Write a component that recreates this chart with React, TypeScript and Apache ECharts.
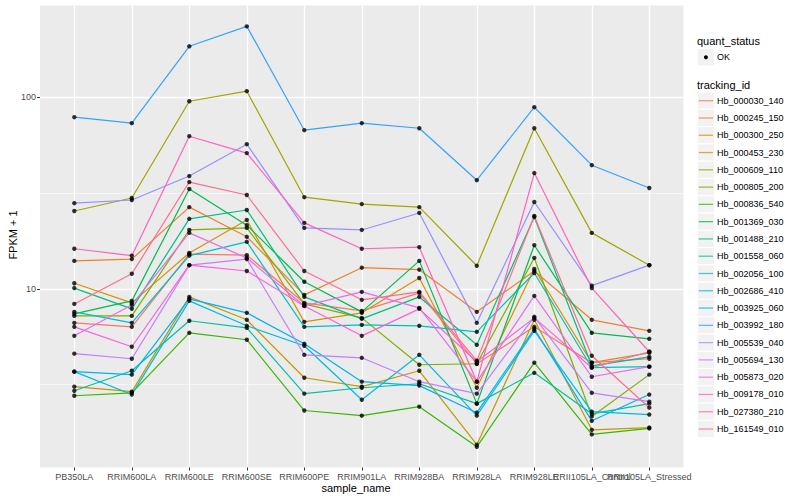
import React, { useEffect, useRef } from "react";
import * as echarts from "echarts";

// ---------- data ----------
const sampleNames = [
  "PB350LA", "RRIM600LA", "RRIM600LE", "RRIM600SE", "RRIM600PE", "RRIM901LA",
  "RRIM928BA", "RRIM928LA", "RRIM928LE", "RRII105LA_Control", "RRII105LA_Stressed",
];

const trackingIds = [
  "Hb_000030_140", "Hb_000245_150", "Hb_000300_250", "Hb_000453_230", "Hb_000609_110",
  "Hb_000805_200", "Hb_000836_540", "Hb_001369_030", "Hb_001488_210", "Hb_001558_060",
  "Hb_002056_100", "Hb_002686_410", "Hb_003925_060", "Hb_003992_180", "Hb_005539_040",
  "Hb_005694_130", "Hb_005873_020", "Hb_009178_010", "Hb_027380_210", "Hb_161549_010",
];

const trackingColors = [
  "#F8766D", "#EA8331", "#D89000", "#C09B00", "#A3A500",
  "#7CAE00", "#39B600", "#00BB4E", "#00BF7D", "#00C1A3",
  "#00BFC4", "#00BAE0", "#00B0F6", "#35A2FF", "#9590FF",
  "#C77CFF", "#E76BF3", "#FA62DB", "#FF62BC", "#FF6C91",
];

// FPKM + 1 per sample, one array per tracking id
const hb000030_140 = [6.65, 6.34, 15.2, 15.0, 8.45, 7.68, 9.53, 4.07, 6.34, 4.12, 4.32];
const hb000245_150 = [14.0, 14.3, 26.7, 18.7, 9.31, 12.9, 12.6, 7.59, 12.4, 6.9, 6.04];
const hb000300_250 = [10.7, 8.45, 15.4, 22.9, 6.73, 7.5, 11.4, 3.05, 12.7, 4.12, 4.64];
const hb000453_230 = [3.09, 2.91, 9.08, 6.9, 3.44, 3.09, 3.74, 1.54, 6.9, 1.84, 1.89];
const hb000609_110 = [25.5, 29.8, 95.3, 107.5, 30.1, 27.7, 26.7, 13.2, 68.9, 19.6, 13.3];
const hb000805_200 = [7.23, 7.23, 20.3, 20.8, 8.35, 7.06, 4.02, 4.07, 14.5, 2.16, 3.57];
const hb000836_540 = [2.77, 2.87, 5.9, 5.43, 2.32, 2.18, 2.43, 1.5, 4.12, 1.74, 1.87];
const hb001369_030 = [7.41, 8.66, 33.2, 21.5, 10.9, 7.59, 14.0, 2.52, 16.9, 5.9, 5.49];
const hb001488_210 = [10.1, 7.87, 23.2, 25.8, 9.08, 6.98, 9.08, 5.11, 23.7, 3.97, 4.42];
const hb001558_060 = [2.94, 3.74, 6.82, 6.26, 2.84, 3.05, 3.2, 2.52, 3.65, 2.23, 2.52];
const hb002056_100 = [7.59, 6.65, 14.9, 17.6, 6.34, 6.49, 6.42, 5.97, 12.1, 3.88, 3.93];
const hb002686_410 = [3.7, 2.81, 8.66, 6.42, 5.05, 2.64, 4.53, 2.18, 6.04, 2.29, 2.21];
const hb003925_060 = [3.7, 3.57, 8.87, 7.5, 5.17, 3.28, 3.13, 2.26, 6.19, 2.05, 2.81];
const hb003992_180 = [78.7, 73.2, 184.4, 234.3, 67.3, 73.2, 68.9, 36.9, 88.7, 44.2, 33.6];
const hb005539_040 = [28.0, 29.1, 38.8, 56.9, 20.8, 20.3, 24.9, 6.65, 28.4, 10.4, 13.3];
const hb005694_130 = [4.59, 4.32, 13.3, 14.3, 4.53, 4.37, 3.28, 2.84, 7.15, 2.87, 2.58];
const hb005873_020 = [5.69, 8.25, 19.6, 14.5, 8.15, 9.65, 7.96, 3.28, 9.19, 3.48, 3.93];
const hb009178_010 = [6.34, 4.99, 13.3, 12.4, 8.15, 5.69, 7.87, 4.17, 7.06, 3.88, 4.7];
const hb027380_210 = [16.2, 14.9, 62.6, 51.1, 22.1, 16.2, 16.5, 3.28, 40.2, 10.1, 4.7];
const hb161549_010 = [8.35, 12.0, 36.1, 30.9, 12.4, 8.77, 9.65, 4.22, 24.0, 4.48, 2.4];

const seriesValues = [
  hb000030_140, hb000245_150, hb000300_250, hb000453_230, hb000609_110,
  hb000805_200, hb000836_540, hb001369_030, hb001488_210, hb001558_060,
  hb002056_100, hb002686_410, hb003925_060, hb003992_180, hb005539_040,
  hb005694_130, hb005873_020, hb009178_010, hb027380_210, hb161549_010,
];

const quantStatus = ["OK"];
const yMin = 1.17;
const yMax = 301;

// ---------- layout ----------
const FONT = "'Liberation Sans', Arial, Helvetica, sans-serif";
const PANEL_LEFT = 40;
const PANEL_TOP = 5.5;
const PANEL_W = 643.5;
const PANEL_H = 462;
const STEP = 57.5;
const FIRST_X = 74.3;
const KEY_X = 697.3;
const KEY = 17.28;

function buildOption() {
  const lineSeries = seriesValues.map((vals, i) => ({
    type: "line",
    name: trackingIds[i],
    xAxisIndex: 1,
    yAxisIndex: 2,
    data: vals,
    symbol: "none",
    clip: false,
    lineStyle: { color: trackingColors[i], width: 1.2 },
    z: 3,
  }));

  const points: [number, number][] = [];
  seriesValues.forEach((vals) => vals.forEach((v, j) => points.push([j, v])));

  const graphic: any[] = [];
  graphic.push({
    type: "text", x: 697, y: 40.7,
    style: { text: "quant_status", fontSize: 11, fontFamily: FONT, fill: "#000", verticalAlign: "middle" },
  });
  quantStatus.forEach((q, i) => {
    const cy = 57.3 + i * KEY;
    graphic.push({ type: "rect", shape: { x: KEY_X, y: cy - KEY / 2, width: KEY, height: KEY }, style: { fill: "#F2F2F2", stroke: "#FFFFFF", lineWidth: 1 } });
    graphic.push({ type: "circle", shape: { cx: KEY_X + KEY / 2, cy, r: 2 }, style: { fill: "#000" } });
    graphic.push({ type: "text", x: 717, y: cy, style: { text: q, fontSize: 9, fontFamily: FONT, fill: "#000", verticalAlign: "middle" } });
  });
  graphic.push({
    type: "text", x: 697, y: 85,
    style: { text: "tracking_id", fontSize: 11, fontFamily: FONT, fill: "#000", verticalAlign: "middle" },
  });
  trackingIds.forEach((id, i) => {
    const cy = 100.7 + i * KEY;
    graphic.push({ type: "rect", shape: { x: KEY_X, y: cy - KEY / 2, width: KEY, height: KEY }, style: { fill: "#F2F2F2", stroke: "#FFFFFF", lineWidth: 1 } });
    graphic.push({ type: "line", shape: { x1: KEY_X + 1.5, y1: cy, x2: KEY_X + KEY - 1.5, y2: cy }, style: { stroke: trackingColors[i], lineWidth: 1.3, opacity: 0.75 } });
    graphic.push({ type: "text", x: 717, y: cy, style: { text: id, fontSize: 9, fontFamily: FONT, fill: "#000", verticalAlign: "middle" } });
  });
  // axis titles
  graphic.push({
    type: "text", x: 356, y: 487.5,
    style: { text: "sample_name", fontSize: 11, fontFamily: FONT, fill: "#000", align: "center", verticalAlign: "middle" },
  });
  graphic.push({
    type: "text", x: 12.5, y: 235, rotation: Math.PI / 2,
    style: { text: "FPKM + 1", fontSize: 11, fontFamily: FONT, fill: "#000", align: "center", verticalAlign: "middle" },
  });

  return {
    animation: false,
    backgroundColor: "#FFFFFF",
    textStyle: { fontFamily: FONT },
    grid: [
      { left: PANEL_LEFT, top: PANEL_TOP, width: PANEL_W, height: PANEL_H, show: true, backgroundColor: "#EBEBEB", borderWidth: 0 },
      { left: FIRST_X, top: PANEL_TOP, width: STEP * (sampleNames.length - 1), height: PANEL_H, show: false },
    ],
    xAxis: [
      { gridIndex: 0, type: "value", min: 0, max: 1, show: false },
      {
        gridIndex: 1, type: "category", data: sampleNames, boundaryGap: false,
        axisLine: { show: false },
        axisTick: { show: true, length: 3, lineStyle: { color: "#333333", width: 1 } },
        axisLabel: { interval: 0, color: "#4D4D4D", fontSize: 9, margin: 5, fontFamily: FONT },
        splitLine: { show: true, lineStyle: { color: "#FFFFFF", width: 1.3 } },
      },
    ],
    yAxis: [
      {
        gridIndex: 0, type: "log", logBase: 10, min: yMin, max: yMax,
        axisLine: { show: false },
        axisTick: { show: true, length: 3, lineStyle: { color: "#333333", width: 1 } },
        axisLabel: { color: "#4D4D4D", fontSize: 9, margin: 4, fontFamily: FONT, showMinLabel: false, showMaxLabel: false },
        splitLine: { show: true, showMinLine: false, showMaxLine: false, lineStyle: { color: "#FFFFFF", width: 1.3 } },
      },
      {
        gridIndex: 0, type: "log", logBase: Math.sqrt(10), min: yMin, max: yMax, position: "right",
        axisLine: { show: false }, axisTick: { show: false }, axisLabel: { show: false },
        splitLine: { show: true, showMinLine: false, showMaxLine: false, lineStyle: { color: "#FFFFFF", width: 0.6 } },
      },
      { gridIndex: 1, type: "log", logBase: 10, min: yMin, max: yMax, show: false },
    ],
    series: [
      ...lineSeries,
      {
        type: "scatter", name: "OK", xAxisIndex: 1, yAxisIndex: 2, data: points,
        symbol: "circle", symbolSize: 4.4, itemStyle: { color: "#000000" }, clip: false, z: 5,
      },
    ],
    graphic,
  };
}

export default function App() {
  const ref = useRef<HTMLDivElement>(null);
  useEffect(() => {
    if (!ref.current) return;
    const chart = echarts.init(ref.current, null, { renderer: "svg" });
    chart.setOption(buildOption() as any);
    return () => chart.dispose();
  }, []);
  return <div ref={ref} style={{ position: "fixed", left: 0, top: 0, width: 800, height: 500 }} />;
}
